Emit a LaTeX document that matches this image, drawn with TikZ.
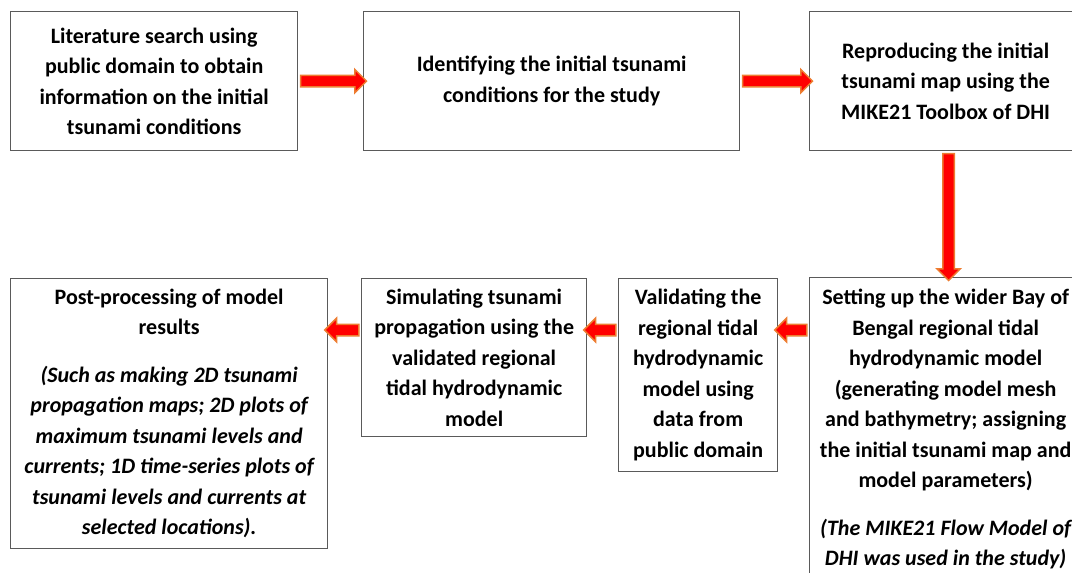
\documentclass[tikz,border=0pt]{standalone}
\usepackage{fontspec}
\setmainfont{Carlito}
\usetikzlibrary{shapes.arrows}
\definecolor{arrred}{RGB}{255,0,0}
\definecolor{arrorange}{RGB}{237,125,49}
\definecolor{boxgray}{RGB}{90,90,90}
\begin{document}
\begin{tikzpicture}[x=1pt,y=-1pt,
  box/.style={draw=boxgray, line width=1.3pt, align=center, inner sep=0pt,
    font=\fontsize{22}{30.5}\selectfont\bfseries, anchor=north west},
  barrow/.style={single arrow, fill=arrred, draw=arrorange, line width=1.5pt,
    inner xsep=0pt, inner ysep=5pt, minimum width=22pt, single arrow head extend=6pt,
    single arrow head indent=0pt},
  barrowl/.style={barrow, shape border rotate=180},
  barrowd/.style={barrow, shape border rotate=270, inner xsep=5pt, inner ysep=0pt},
]
\useasboundingbox (0,0) rectangle (1072,573);
\clip (0,0) rectangle (1072,573);
\node[box, minimum width=287, minimum height=139] (b1) at (10,11)
  {Literature search using\\public domain to obtain\\information on the initial\\tsunami conditions};
\node[box, minimum width=376, minimum height=139] (b2) at (363,11)
  {Identifying the initial tsunami\\conditions for the study};
\node[box, minimum width=272, minimum height=139] (b3) at (809,11)
  {Reproducing the initial\\tsunami map using the\\MIKE21 Toolbox of DHI};
\node[box, minimum width=272, minimum height=303] (b4) at (809,277)
  {Setting up the wider Bay of\\Bengal regional tidal\\hydrodynamic model\\(generating model mesh\\and bathymetry; assigning\\the initial tsunami map and\\model parameters)\\[17pt]\itshape (The MIKE21 Flow Model of\\\itshape DHI was used in the study)};
\node[box, minimum width=159, minimum height=193] (b5) at (618,278)
  {Validating the\\regional tidal\\hydrodynamic\\model using\\data from\\public domain};
\node[box, minimum width=225, minimum height=158] (b6) at (361,278)
  {Simulating tsunami\\propagation using the\\validated regional\\tidal hydrodynamic\\model};
\node[box, minimum width=317, minimum height=270] (b7) at (10,278)
  {Post-processing of model\\results\\[17pt]\itshape (Such as making 2D tsunami\\\itshape propagation maps; 2D plots of\\\itshape maximum tsunami levels and\\\itshape currents; 1D time-series plots of\\\itshape tsunami levels and currents at\\\itshape selected locations).};
\path (b1.east) -- node[barrow, minimum height=66pt] (a1) {} (b2.west);
\path (b2.east) -- node[barrow, minimum height=70pt] (a2) {} (b3.west);
\path ([xshift=3pt]b3.south) -- node[barrowd, minimum height=127pt] (a3) {} ([xshift=3pt]b4.north);
\path ([yshift=-53pt]b4.north west) -- node[barrowl, minimum height=32pt] (a4) {} ([yshift=-52pt]b5.north east);
\path ([yshift=-52pt]b5.north west) -- node[barrowl, minimum height=32pt] (a5) {} ([yshift=-52pt]b6.north east);
\path ([yshift=-52pt]b6.north west) -- node[barrowl, minimum height=34pt] (a6) {} ([yshift=-52pt]b7.north east);
\end{tikzpicture}
\end{document}
